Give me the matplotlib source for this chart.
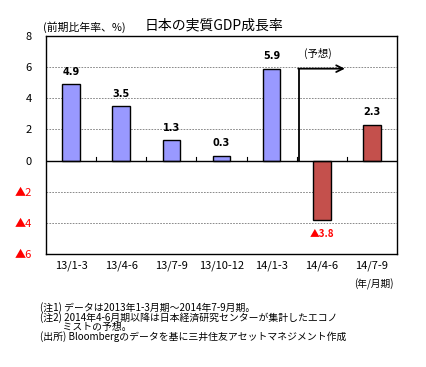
import matplotlib
matplotlib.use("Agg")
import matplotlib.pyplot as plt
import numpy as np

plt.rcParams['font.family'] = ['Noto Sans CJK JP', 'DejaVu Sans']

categories = ["13/1-3", "13/4-6", "13/7-9", "13/10-12", "14/1-3", "14/4-6", "14/7-9"]
values = [4.9, 3.5, 1.3, 0.3, 5.9, -3.8, 2.3]
forecast = [False, False, False, False, False, True, True]
yticks = [8, 6, 4, 2, 0, -2, -4, -6]
ytick_labels = ["8", "6", "4", "2", "0", "▲2", "▲4", "▲6"]
notes = [
    "(注1) データは2013年1-3月期～2014年7-9月期。",
    "(注2) 2014年4-6月期以降は日本経済研究センターが集計したエコノ",
    "          ミストの予想。",
    "(出所) Bloombergのデータを基に三井住友アセットマネジメント作成",
]

BLUE = "#9999FF"
RED = "#C4504C"

fig = plt.figure(figsize=(4.26, 3.67), dpi=100)
ax = fig.add_axes([0.108, 0.308, 0.824, 0.594])

x = np.arange(len(categories))
colors = [RED if f else BLUE for f in forecast]
ax.bar(x, values, width=0.35, color=colors, edgecolor="black", linewidth=1.0, zorder=3)

ax.set_xlim(-0.5, len(categories) - 0.5)
ax.set_ylim(-6, 8)

# grid
for yv in yticks:
    if yv in (8, -6, 0):
        continue
    ax.axhline(yv, color="#777777", linestyle=(0, (2, 1.5)), linewidth=0.6, zorder=1)
ax.axhline(0, color="black", linewidth=1.0, zorder=4)

# small ticks at category boundaries on the zero line
for b in np.arange(0.5, len(categories) - 0.5, 1.0):
    ax.plot([b, b], [0, 0.2], color="black", linewidth=0.8, zorder=4)

# value labels
for xi, v in zip(x, values):
    if v >= 0:
        ax.annotate(f"{v:.1f}", (xi, v), xytext=(0, 9), textcoords="offset points",
                    ha="center", va="center", fontsize=7, fontweight="bold",
                    family="DejaVu Sans", color="black")
    else:
        ax.annotate(f"▲{abs(v):.1f}", (xi, v), xytext=(0, -10), textcoords="offset points",
                    ha="center", va="center", fontsize=7, fontweight="bold",
                    color="red")

# forecast arrow
ax.plot([4.54, 4.54], [0, 5.9], color="black", linewidth=1.3, zorder=5)
ax.annotate("", xy=(5.46, 5.9), xytext=(4.53, 5.9),
            arrowprops=dict(arrowstyle="->", color="black", lw=1.3,
                            mutation_scale=12, shrinkA=0, shrinkB=0), zorder=5)
ax.text(4.65, 6.9, "(予想)", fontsize=7.5, ha="left", va="center")

ax.set_xticks(x)
ax.set_xticklabels(categories, fontsize=8)
ax.set_yticks(yticks)
ax.set_yticklabels(ytick_labels, fontsize=8)
for lbl, yv in zip(ax.get_yticklabels(), yticks):
    lbl.set_color("red" if yv < 0 else "black")
ax.tick_params(axis="x", length=0, pad=5)
ax.tick_params(axis="y", length=0, pad=10)
for s in ax.spines.values():
    s.set_linewidth(1.0)
    s.set_color("black")

fig.text(0.101, 0.927, "(前期比年率、%)", fontsize=7.8, ha="left", va="center")
fig.text(0.34, 0.930, "日本の実質GDP成長率", fontsize=10, ha="left", va="center")
fig.text(0.923, 0.226, "(年/月期)", fontsize=7, ha="right", va="center")

for i, line in enumerate(notes):
    fig.text(0.094, 0.161 - i * 0.0262, line, fontsize=7.1, ha="left", va="center")

fig.savefig("out.png", dpi=100)
